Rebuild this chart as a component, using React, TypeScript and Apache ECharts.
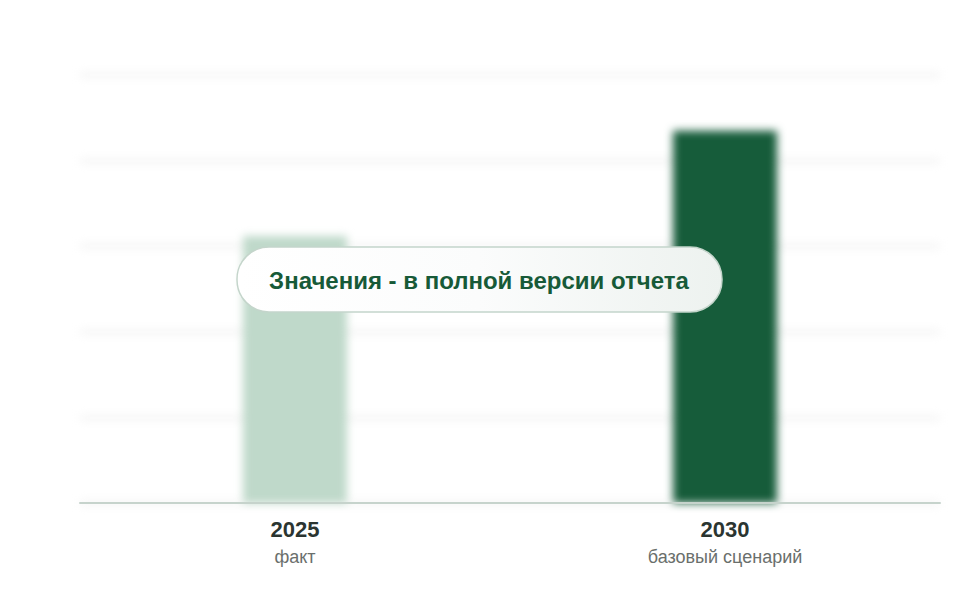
import React, { useEffect, useRef } from 'react'
import * as echarts from 'echarts'

const categories = ['2025', '2030']
const subLabels = ['факт', 'базовый сценарий']
const values = [3.12, 4.35]
const barColors = ['#bfd9ca', '#165c3a']
const yMax = 5
const yInterval = 1
const noticeText = 'Значения - в полной версии отчета'

const grid = { left: 80, right: 20, top: 75, bottom: 97 }
const font = 'Liberation Sans, Arial, sans-serif'

const App: React.FC = () => {
    const barsRef = useRef<HTMLDivElement | null>(null)
    const axisRef = useRef<HTMLDivElement | null>(null)

    useEffect(() => {
        if (!barsRef.current || !axisRef.current) return
        // нижний слой: размытые столбцы и сетка
        const bars = echarts.init(barsRef.current, undefined, { renderer: 'svg' })
        bars.setOption({
            animation: false,
            grid,
            xAxis: {
                type: 'category',
                data: categories,
                axisLine: { show: false },
                axisTick: { show: false },
                axisLabel: { show: false },
            },
            yAxis: {
                type: 'value',
                min: 0,
                max: yMax,
                interval: yInterval,
                axisLabel: { show: false },
                splitLine: { lineStyle: { color: '#f1f1f1', width: 4 } },
            },
            series: [
                {
                    type: 'bar',
                    barWidth: 104,
                    data: values.map((v, i) => ({
                        value: v,
                        itemStyle: { color: barColors[i] },
                    })),
                },
            ],
        })

        // верхний слой: ось, подписи и плашка
        const axis = echarts.init(axisRef.current, undefined, { renderer: 'svg' })
        axis.setOption({
            animation: false,
            grid,
            xAxis: {
                type: 'category',
                data: categories,
                axisLine: { lineStyle: { color: '#c6d3cc', width: 2 } },
                axisTick: { show: false },
                axisLabel: {
                    margin: 13,
                    formatter: (val: string, idx: number) => `{a|${val}}\n{b|${subLabels[idx]}}`,
                    rich: {
                        a: {
                            fontFamily: font,
                            fontSize: 22,
                            fontWeight: 'bold',
                            color: '#2b3531',
                            lineHeight: 27,
                        },
                        b: {
                            fontFamily: font,
                            fontSize: 18,
                            color: '#6a6f6c',
                            lineHeight: 28,
                        },
                    },
                },
            },
            yAxis: {
                type: 'value',
                min: 0,
                max: yMax,
                interval: yInterval,
                show: false,
                splitLine: { show: false },
            },
            series: [
                { type: 'bar', data: values.map(() => 0), silent: true },
            ],
            graphic: [
                {
                    type: 'group',
                    x: 237,
                    y: 247,
                    children: [
                        {
                            type: 'rect',
                            shape: { x: 0, y: 0, width: 485, height: 65, r: 32 },
                            style: {
                                fill: new echarts.graphic.LinearGradient(0, 0, 1, 0, [
                                    { offset: 0, color: '#ffffff' },
                                    { offset: 0.5, color: '#fbfcfc' },
                                    { offset: 1, color: '#edf2ef' },
                                ]),
                                stroke: '#c4d5cb',
                                lineWidth: 1.5,
                            },
                        },
                        {
                            type: 'text',
                            x: 242,
                            y: 33,
                            style: {
                                text: noticeText,
                                fontFamily: font,
                                fontSize: 24,
                                fontWeight: 'bold',
                                fill: '#175a38',
                                align: 'center',
                                verticalAlign: 'middle',
                            },
                        },
                    ],
                },
            ],
        })

        return () => {
            bars.dispose()
            axis.dispose()
        }
    }, [])

    const layer: React.CSSProperties = {
        position: 'absolute',
        left: 0,
        top: 0,
        width: 960,
        height: 600,
    }

    return (
        <div style={{ position: 'fixed', left: 0, top: 0, width: 960, height: 600, background: '#fff' }}>
            <div ref={barsRef} style={{ ...layer, filter: 'blur(4.5px)' }} />
            <div ref={axisRef} style={layer} />
        </div>
    )
}

export default App
